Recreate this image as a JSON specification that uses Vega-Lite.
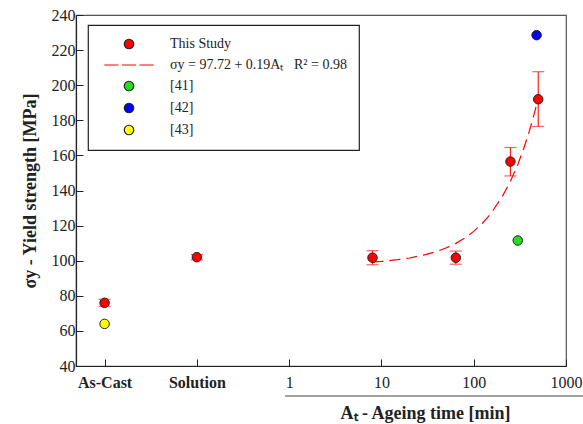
{
  "$schema": "https://vega.github.io/schema/vega-lite/v6.json",
  "width": 490,
  "height": 351,
  "autosize": "none",
  "padding": {"left": 76, "top": 15, "right": 17, "bottom": 58},
  "background": "white",
  "config": {
    "font": "Liberation Serif",
    "view": {"stroke": "#555", "strokeWidth": 1.2},
    "axis": {
      "grid": false, "domainColor": "#222", "tickColor": "#222", "labelColor": "#222", "titleColor": "#222",
      "labelFont": "Liberation Serif", "titleFont": "Liberation Serif", "labelFontSize": 16, "titleFontSize": 18,
      "titleFontWeight": "bold", "tickSize": -7, "domainWidth": 1.2, "tickWidth": 1
    },
    "legend": {
      "orient": "none", "legendX": 12, "legendY": 10, "strokeColor": "#222", "strokeWidth": 1.2, "fillColor": "white",
      "padding": 12, "symbolOffset": 22, "labelOffset": 34, "labelFontSize": 14, "labelFont": "Liberation Serif",
      "labelColor": "#222", "rowPadding": 6, "symbolSize": 90, "symbolStrokeWidth": 1.2, "labelLimit": 400
    }
  },
  "datasets": {
    "pts": [
      {"t": 0.01, "ys": 76, "lo": 74, "hi": 78, "series": "This Study"},
      {"t": 0.1, "ys": 102, "lo": 100.5, "hi": 103.5, "series": "This Study"},
      {"t": 8, "ys": 101.7, "lo": 97.7, "hi": 105.7, "series": "This Study"},
      {"t": 64, "ys": 101.7, "lo": 98, "hi": 105.5, "series": "This Study"},
      {"t": 250, "ys": 156.5, "lo": 148.3, "hi": 164.5, "series": "This Study"},
      {"t": 500, "ys": 192, "lo": 176.5, "hi": 207.7, "series": "This Study"},
      {"t": 300, "ys": 111.5, "series": "[41]"},
      {"t": 480, "ys": 228.5, "series": "[42]"},
      {"t": 0.01, "ys": 64, "series": "[43]"}
    ],
    "fit": [
      {"t": 8, "ys": 99.24}, {"t": 10, "ys": 99.62}, {"t": 15, "ys": 100.57}, {"t": 20, "ys": 101.52},
      {"t": 30, "ys": 103.42}, {"t": 40, "ys": 105.32}, {"t": 50, "ys": 107.22}, {"t": 64, "ys": 109.88},
      {"t": 80, "ys": 112.92}, {"t": 100, "ys": 116.72}, {"t": 125, "ys": 121.47}, {"t": 150, "ys": 126.22},
      {"t": 200, "ys": 135.72}, {"t": 250, "ys": 145.22}, {"t": 300, "ys": 154.72}, {"t": 350, "ys": 164.22},
      {"t": 400, "ys": 173.72}, {"t": 450, "ys": 183.22}, {"t": 500, "ys": 192.72}
    ],
    "underline": [{"t": 0.9, "t2": 1545, "ys": 22.9}]
  },
  "encoding": {
    "x": {"field": "t", "type": "quantitative", "scale": {"type": "log", "domain": [0.0049, 1000], "nice": false},
      "axis": {
        "values": [0.01, 0.1, 1, 10, 100, 1000],
        "labelExpr": "datum.value < 0.05 ? 'As-Cast' : datum.value < 0.5 ? 'Solution' : format(datum.value, 'd')",
        "labelFontWeight": {"condition": {"test": "datum.value < 0.5", "value": "bold"}, "value": "normal"},
        "labelFlush": false, "labelOverlap": false, "labelBound": false, "labelPadding": 15,
        "title": "Aₜ - Ageing time [min]", "titleX": 349, "titleY": 38, "titleAnchor": "middle"
      }}
  },
  "layer": [
    {
      "data": {"name": "underline"},
      "mark": {"type": "rule", "color": "#444", "strokeWidth": 1.2, "clip": false},
      "encoding": {
        "x2": {"field": "t2"},
        "y": {"field": "ys", "type": "quantitative", "scale": {"domain": [40, 240], "nice": false},
          "axis": {"values": [40, 60, 80, 100, 120, 140, 160, 180, 200, 220, 240], "labelPadding": 8,
            "labelOverlap": false, "labelBound": false, "labelFlush": false,
            "title": "σy - Yield strength [MPa]", "titlePadding": 12}}
      }
    },
    {
      "data": {"name": "fit"},
      "transform": [{"calculate": "'σy = 97.72 + 0.19Aₜ\u00a0\u00a0\u00a0R² = 0.98'", "as": "series"}],
      "mark": {"type": "line", "strokeDash": [11, 6], "strokeWidth": 1.2},
      "encoding": {
        "y": {"field": "ys", "type": "quantitative", "scale": {"domain": [40, 240], "nice": false},
          "axis": {"values": [40, 60, 80, 100, 120, 140, 160, 180, 200, 220, 240], "labelPadding": 8,
            "labelOverlap": false, "labelBound": false, "labelFlush": false,
            "title": "σy - Yield strength [MPa]", "titlePadding": 12}},
        "stroke": {"field": "series", "type": "nominal", "legend": {"title": null}}
      }
    },
    {
      "data": {"name": "pts"},
      "transform": [{"filter": "isValid(datum.lo)"}],
      "mark": {"type": "rule", "color": "#ff2020", "strokeWidth": 1.2},
      "encoding": {
        "y": {"field": "lo", "type": "quantitative", "scale": {"domain": [40, 240], "nice": false},
          "axis": {"values": [40, 60, 80, 100, 120, 140, 160, 180, 200, 220, 240], "labelPadding": 8,
            "labelOverlap": false, "labelBound": false, "labelFlush": false,
            "title": "σy - Yield strength [MPa]", "titlePadding": 12}},
        "y2": {"field": "hi"}
      }
    },
    {
      "data": {"name": "pts"},
      "transform": [{"filter": "isValid(datum.lo)"}],
      "mark": {"type": "tick", "orient": "horizontal", "color": "#ff2020", "size": 12, "thickness": 1.2},
      "encoding": {
        "y": {"field": "lo", "type": "quantitative", "scale": {"domain": [40, 240], "nice": false},
          "axis": {"values": [40, 60, 80, 100, 120, 140, 160, 180, 200, 220, 240], "labelPadding": 8,
            "labelOverlap": false, "labelBound": false, "labelFlush": false,
            "title": "σy - Yield strength [MPa]", "titlePadding": 12}}
      }
    },
    {
      "data": {"name": "pts"},
      "transform": [{"filter": "isValid(datum.lo)"}],
      "mark": {"type": "tick", "orient": "horizontal", "color": "#ff2020", "size": 12, "thickness": 1.2},
      "encoding": {
        "y": {"field": "hi", "type": "quantitative", "scale": {"domain": [40, 240], "nice": false},
          "axis": {"values": [40, 60, 80, 100, 120, 140, 160, 180, 200, 220, 240], "labelPadding": 8,
            "labelOverlap": false, "labelBound": false, "labelFlush": false,
            "title": "σy - Yield strength [MPa]", "titlePadding": 12}}
      }
    },
    {
      "data": {"name": "pts"},
      "mark": {"type": "point", "filled": true, "size": 90, "strokeWidth": 1, "opacity": 1},
      "encoding": {
        "y": {"field": "ys", "type": "quantitative", "scale": {"domain": [40, 240], "nice": false},
          "axis": {"values": [40, 60, 80, 100, 120, 140, 160, 180, 200, 220, 240], "labelPadding": 8,
            "labelOverlap": false, "labelBound": false, "labelFlush": false,
            "title": "σy - Yield strength [MPa]", "titlePadding": 12}},
        "fill": {"field": "series", "type": "nominal", "legend": {"title": null},
          "scale": {"domain": ["This Study", "σy = 97.72 + 0.19Aₜ\u00a0\u00a0\u00a0R² = 0.98", "[41]", "[42]", "[43]"],
            "range": ["#ff0000", "transparent", "#22dd22", "#0000ff", "#ffff00"]}},
        "stroke": {"field": "series", "type": "nominal", "legend": {"title": null},
          "scale": {"domain": ["This Study", "σy = 97.72 + 0.19Aₜ\u00a0\u00a0\u00a0R² = 0.98", "[41]", "[42]", "[43]"],
            "range": ["#222222", "#ff0000", "#222222", "#222222", "#222222"]}},
        "shape": {"field": "series", "type": "nominal", "legend": {"title": null},
          "scale": {"domain": ["This Study", "σy = 97.72 + 0.19Aₜ\u00a0\u00a0\u00a0R² = 0.98", "[41]", "[42]", "[43]"],
            "range": ["circle", "M-5.2,0H-2.2M-1.5,0H1.5M2.2,0H5.2", "circle", "circle", "circle"]}}
      }
    }
  ]
}
